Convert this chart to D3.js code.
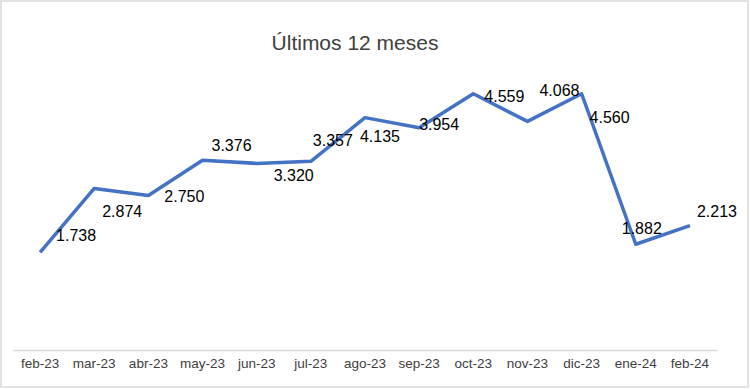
<!DOCTYPE html>
<html>
<head>
<meta charset="utf-8">
<script src="https://cdn.jsdelivr.net/npm/d3@7/dist/d3.min.js"></script>
<style>
  body { margin: 0; background: #fff; }
  svg { display: block; }
</style>
</head>
<body>
<svg id="chart" width="750" height="389"></svg>
<script>
// data
const months = ["feb-23", "mar-23", "abr-23", "may-23", "jun-23", "jul-23", "ago-23",
                "sep-23", "oct-23", "nov-23", "dic-23", "ene-24", "feb-24"];
const values = [1.738, 2.874, 2.750, 3.376, 3.320, 3.357, 4.135,
                3.954, 4.559, 4.068, 4.560, 1.882, 2.213];
const title = "Últimos 12 meses";

// data labels were hand-placed in the original, shifts in px from each point
const labelShift = [[36, -11], [28, 29], [36, 7], [29, -9], [37, 18], [22, -15], [15, 24],
                    [20, 2], [31, 8], [32, -25], [28, 29], [6, -10], [27, -9]];

const svg = d3.select("#chart");
const width = +svg.attr("width"), height = +svg.attr("height");

// chart frame
svg.append("rect")
    .attr("x", 1).attr("y", 1)
    .attr("width", width - 3).attr("height", height - 3)
    .attr("fill", "#fff")
    .attr("stroke", "#d9d9d9")
    .attr("stroke-width", 1.5);

svg.append("text")
    .attr("x", 355)
    .attr("y", 50)
    .attr("text-anchor", "middle")
    .style("font", "21px 'Liberation Sans', Arial, sans-serif")
    .attr("fill", "#404040")
    .text(title);

const x = d3.scaleBand().domain(months).range([13, 717]).padding(0);
const y = d3.scaleLinear().domain([0, 5]).range([350, 69]);
const cx = d => x(d) + x.bandwidth() / 2;

const xAxis = svg.append("g")
    .attr("transform", "translate(0,350)")
    .call(d3.axisBottom(x).tickSize(0).tickSizeOuter(0).tickPadding(8));
xAxis.select(".domain").attr("stroke", "#d9d9d9").attr("stroke-width", 1.5);
xAxis.selectAll("text")
    .attr("fill", "#404040")
    .style("font", "13.5px 'Liberation Sans', Arial, sans-serif");

const line = d3.line()
    .x((d, i) => cx(months[i]))
    .y(d => y(d));

svg.append("path")
    .datum(values)
    .attr("fill", "none")
    .attr("stroke", "#4472c4")
    .attr("stroke-width", 3.5)
    .attr("stroke-linejoin", "round")
    .attr("d", line);

const fmt = v => v.toFixed(3);

svg.append("g")
  .selectAll("text")
  .data(values)
  .enter().append("text")
    .attr("x", (d, i) => cx(months[i]) + labelShift[i][0])
    .attr("y", (d, i) => y(d) + labelShift[i][1])
    .attr("text-anchor", "middle")
    .attr("fill", "#000")
    .style("font", "16px 'Liberation Sans', Arial, sans-serif")
    .text(fmt);
</script>
</body>
</html>
